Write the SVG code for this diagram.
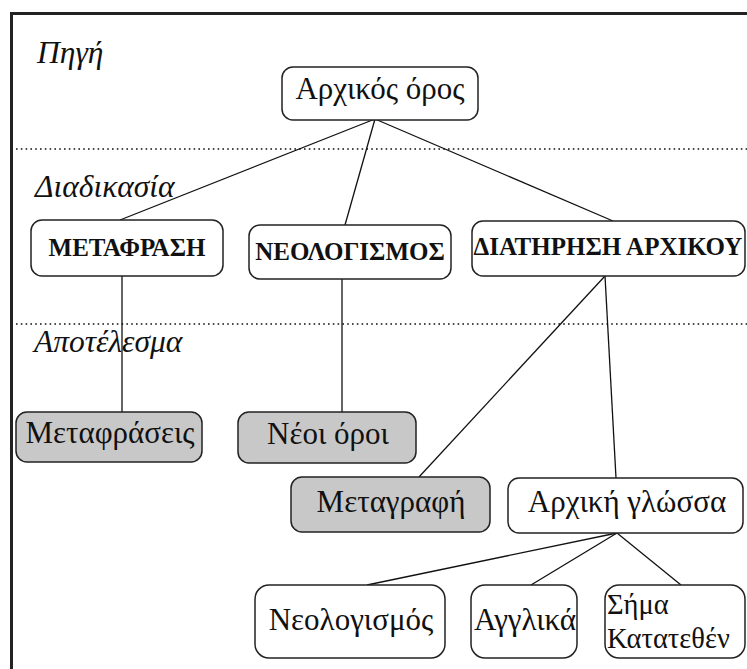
<svg xmlns="http://www.w3.org/2000/svg" width="747" height="669" viewBox="0 0 747 669">
<style>
.box{fill:#fff;stroke:#222;stroke-width:1.5}
.shade{fill:#c8c8c8;stroke:#222;stroke-width:1.5}
.t{font-family:"Liberation Serif","Times New Roman",serif;font-size:31px;fill:#111;text-anchor:middle}
.s{font-family:"Liberation Serif","Times New Roman",serif;font-size:28.5px;fill:#111}
.b{font-family:"Liberation Serif","Times New Roman",serif;font-size:25px;font-weight:bold;fill:#111;text-anchor:middle}
.lab{font-family:"Liberation Serif","Times New Roman",serif;font-size:31.5px;font-style:italic;fill:#111}
.dot{stroke:#111;stroke-width:1.6;stroke-dasharray:1.6 3.2;fill:none}
.ln{stroke:#111;stroke-width:1.3;fill:none}
</style>
<rect x="0" y="0" width="747" height="669" fill="#fff"/>
<rect x="11.5" y="13.5" width="800" height="700" fill="none" stroke="#222" stroke-width="3"/>
<g id="separators">
<line class="dot" x1="16" y1="149" x2="747" y2="149"/>
<line class="dot" x1="16" y1="324" x2="747" y2="324"/>
</g>
<g id="labels">
<text class="lab" x="37" y="63">Πηγή</text>
<text class="lab" x="35" y="197">Διαδικασία</text>
<text class="lab" x="34" y="352">Αποτέλεσμα</text>
</g>
<g id="connectors">
<line class="ln" x1="375" y1="119" x2="120" y2="220"/>
<line class="ln" x1="375" y1="119" x2="345" y2="225"/>
<line class="ln" x1="375" y1="119" x2="613" y2="221"/>
<line class="ln" x1="122" y1="276" x2="122" y2="412"/>
<line class="ln" x1="342" y1="279" x2="342" y2="412"/>
<line class="ln" x1="605" y1="276" x2="419" y2="477"/>
<line class="ln" x1="605" y1="276" x2="616" y2="478"/>
<line class="ln" x1="617" y1="533" x2="367" y2="585"/>
<line class="ln" x1="617" y1="533" x2="531" y2="585"/>
<line class="ln" x1="617" y1="533" x2="681" y2="585"/>
</g>
<g id="n-arxikos">
<rect class="box" x="282" y="67" width="196" height="53" rx="11"/>
<text class="t" x="380" y="99">Αρχικός όρος</text>
</g>
<g id="n-metafrasi">
<rect class="box" x="31" y="220" width="192" height="56" rx="11"/>
<text class="b" x="127" y="256">ΜΕΤΑΦΡΑΣΗ</text>
</g>
<g id="n-neologismos">
<rect class="box" x="249" y="225" width="202" height="54" rx="11"/>
<text class="b" x="350" y="260">ΝΕΟΛΟΓΙΣΜΟΣ</text>
</g>
<g id="n-diatirisi">
<rect class="box" x="472" y="221" width="273" height="55" rx="11"/>
<text class="b" x="608" y="255">ΔΙΑΤΗΡΗΣΗ ΑΡΧΙΚΟΥ</text>
</g>
<g id="n-metafraseis">
<rect class="shade" x="16" y="412" width="186" height="50" rx="11"/>
<text class="t" x="110" y="443">Μεταφράσεις</text>
</g>
<g id="n-neoi-oroi">
<rect class="shade" x="238" y="412" width="178" height="51" rx="11"/>
<text class="t" x="328" y="444">Νέοι όροι</text>
</g>
<g id="n-metagrafi">
<rect class="shade" x="291" y="477" width="199" height="55" rx="11"/>
<text class="t" x="391" y="512">Μεταγραφή</text>
</g>
<g id="n-arxiki-glossa">
<rect class="box" x="508" y="478" width="235" height="55" rx="11"/>
<text class="t" x="627" y="512">Αρχική γλώσσα</text>
</g>
<g id="n-neologismos2">
<rect class="box" x="255" y="585" width="190" height="73" rx="14"/>
<text class="t" x="351" y="630">Νεολογισμός</text>
</g>
<g id="n-agglika">
<rect class="box" x="471" y="585" width="106" height="73" rx="14"/>
<text class="t" x="525" y="630">Αγγλικά</text>
</g>
<g id="n-sima">
<rect class="box" x="605" y="585" width="140" height="73" rx="14"/>
<text class="s" x="607" y="614">Σήμα</text>
<text class="s" x="607" y="648">Κατατεθέν</text>
</g>
</svg>
